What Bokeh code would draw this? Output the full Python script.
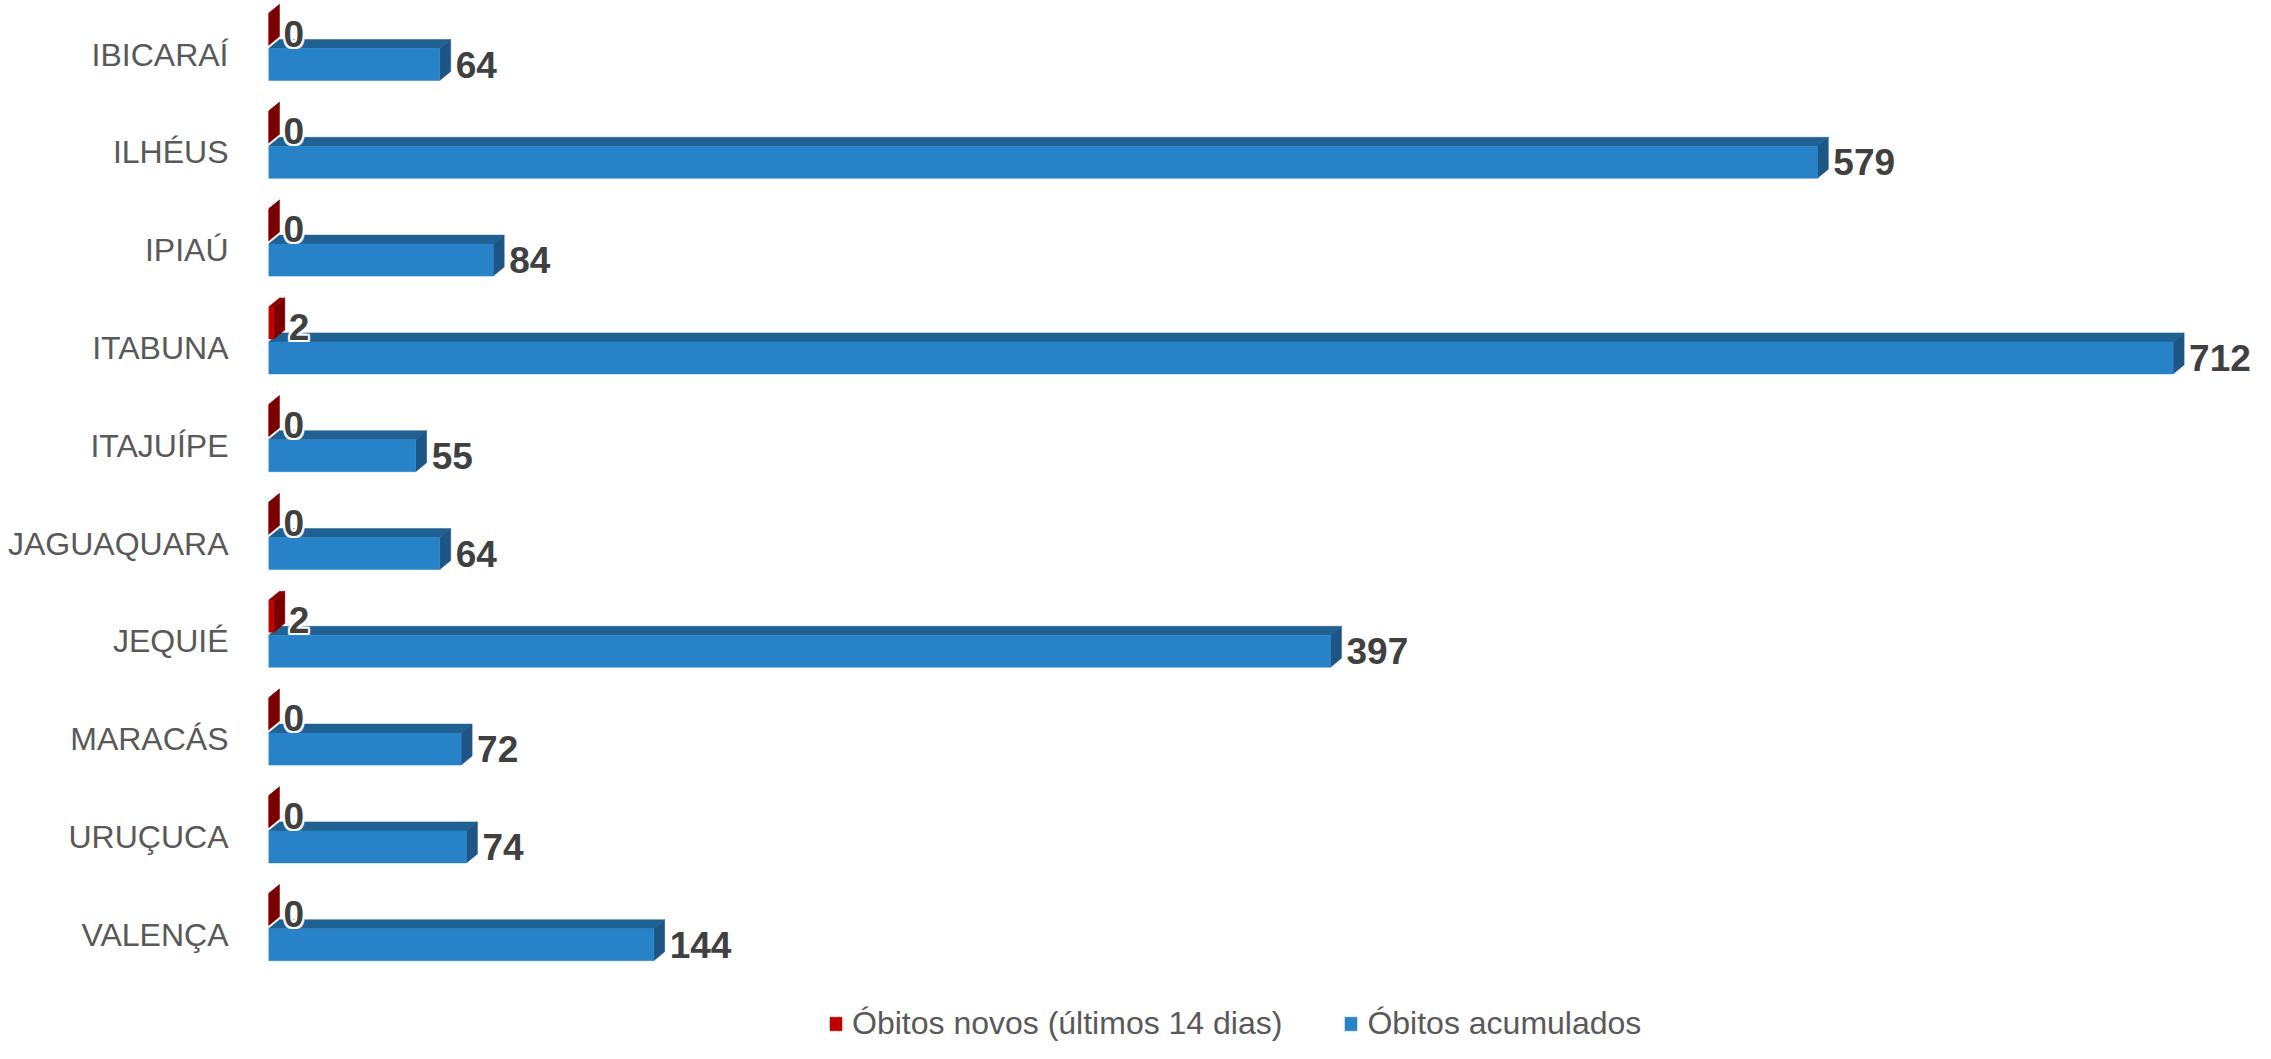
from bokeh.plotting import figure
from bokeh.models import Range1d, FixedTicker, ColumnDataSource, Legend, LegendItem
from bokeh.core.properties import value
from bokeh.embed import file_html
from bokeh.resources import INLINE

# ---- data ----
categories = ["IBICARAÍ", "ILHÉUS", "IPIAÚ", "ITABUNA", "ITAJUÍPE",
              "JAGUAQUARA", "JEQUIÉ", "MARACÁS", "URUÇUCA", "VALENÇA"]
novos = [0, 0, 0, 2, 0, 0, 2, 0, 0, 0]
acumulados = [64, 579, 84, 712, 55, 64, 397, 72, 74, 144]
series_names = ["Óbitos novos (últimos 14 dias)", "Óbitos acumulados"]

# ---- style ----
FONT = "Liberation Sans"
FONT_V = value(FONT)
W, H = 2255, 1043
LEFT = 268
ROW_PX = 97.8          # pixels per category row
ROW0 = 54              # pixel y of first category centre
X_PX = 2.675           # pixels per value unit
DX = 11 / X_PX         # 3D depth (x, data units)
DY = 9 / ROW_PX        # 3D depth (y, rows)
BAR_H = 32 / ROW_PX

pos = list(range(len(categories)))

p = figure(width=W, height=H, output_backend="svg", toolbar_location=None,
           x_range=Range1d(0, (W - LEFT) / X_PX),
           y_range=Range1d(start=(H - ROW0) / ROW_PX, end=(0 - ROW0) / ROW_PX),
           min_border_left=LEFT, min_border_right=0, min_border_top=0,
           min_border_bottom=0)
p.outline_line_color = None
p.grid.visible = False
p.xaxis.visible = False
p.background_fill_color = "white"
p.border_fill_color = "white"

ya = p.yaxis[0]
ya.ticker = FixedTicker(ticks=pos)
ya.major_label_overrides = {i: c for i, c in zip(pos, categories)}
ya.axis_line_color = None
ya.major_tick_line_color = None
ya.minor_tick_line_color = None
ya.major_tick_in = 0
ya.major_tick_out = 0
ya.major_label_standoff = 40
ya.major_label_text_font = FONT
ya.major_label_text_font_size = "32px"
ya.major_label_text_color = "#595959"


def bar3d(values, center_off, front, top, side):
    cy = [i + center_off for i in pos]
    tops = [c - BAR_H / 2 for c in cy]
    bots = [c + BAR_H / 2 for c in cy]
    top_xs, top_ys, side_xs, side_ys = [], [], [], []
    for v, t, b in zip(values, tops, bots):
        top_xs.append([0, v, v + DX, DX])
        top_ys.append([t, t, t - DY, t - DY])
        side_xs.append([v, v + DX, v + DX, v])
        side_ys.append([t, t - DY, b - DY, b])
    p.patches(top_xs, top_ys, fill_color=top, line_color=top, line_width=0.5)
    p.patches(side_xs, side_ys, fill_color=side, line_color=side, line_width=0.5)
    r = p.hbar(y=cy, left=0, right=values, height=BAR_H, fill_color=front,
               line_color=front, line_width=0.5)
    return r


blue = bar3d(acumulados, (10 / ROW_PX), "#2882C8", "#1F6193", "#1D5686")
red = bar3d(novos, (-25 / ROW_PX), "#C00000", "#8E0000", "#7A0000")


def labels(values, x_off, y_off):
    src = ColumnDataSource(dict(x=[v + x_off for v in values],
                                y=[i + y_off for i in pos],
                                t=[str(v) for v in values]))
    for ox, oy in [(-2, 0), (2, 0), (0, -2), (0, 2), (-2, -2), (2, 2), (-2, 2), (2, -2)]:
        p.text(x="x", y="y", text="t", source=src, text_font=FONT_V,
               text_font_size="37px", text_font_style="bold", text_color="white",
               text_alpha=0.85, text_align="left", text_baseline="middle",
               x_offset=ox, y_offset=oy)
    p.text(x="x", y="y", text="t", source=src, text_font=FONT_V,
           text_font_size="37px", text_font_style="bold", text_color="#404040",
           text_align="left", text_baseline="middle")


labels(acumulados, 16 / X_PX, 10 / ROW_PX)
labels(novos, 15 / X_PX, -21 / ROW_PX)

legend = Legend(items=[LegendItem(label=series_names[0], renderers=[red]),
                       LegendItem(label=series_names[1], renderers=[blue])],
                orientation="horizontal", location=(560, 1),
                padding=0, margin=0, spacing=61, label_standoff=9,
                glyph_width=15, glyph_height=17,
                label_text_font=FONT, label_text_font_size="32px",
                label_text_color="#595959",
                border_line_color=None, background_fill_alpha=0)
p.add_layout(legend, "center")

open("out.html", "w").write(file_html(p, INLINE))
